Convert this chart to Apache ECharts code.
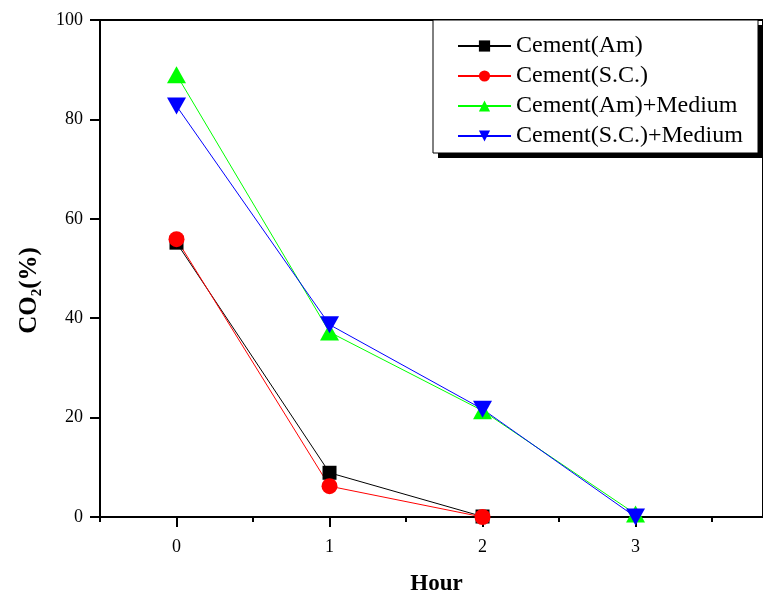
<!DOCTYPE html>
<html>
<head>
<meta charset="utf-8">
<script src="https://cdn.jsdelivr.net/npm/echarts@6/dist/echarts.min.js"></script>
<style>
  html, body { margin: 0; padding: 0; background: #fff; }
  #chart { width: 763px; height: 593px; }
</style>
</head>
<body>
<div id="chart"></div>
<script>
  // hours on the x axis
  var hours = [0, 1, 2, 3]
  var halfTicks = [-0.5, 0.5, 1.5, 2.5, 3.5]

  // CO2 (%)
  var cementAm = [55.2, 8.9, 0.1]
  var cementSC = [55.9, 6.2, 0]
  var cementAmMedium = [89.0, 37.2, 21.4, 0.6]
  var cementSCMedium = [82.7, 38.7, 21.7, 0]

  var seriesNames = ['Cement(Am)', 'Cement(S.C.)', 'Cement(Am)+Medium', 'Cement(S.C.)+Medium']

  function pairs(vals) {
    return vals.map(function (v, i) { return [hours[i], v] })
  }

  var font = '"Liberation Serif", "Times New Roman", serif'

  var myChart = echarts.init(document.getElementById('chart'))
  var option = {
    animation: false,
    textStyle: { fontFamily: font, color: '#000' },
    grid: {
      left: 100, top: 20, right: 0, bottom: 76,
      outerBoundsMode: 'none',
      show: true, borderColor: '#000', borderWidth: 2
    },
    // legend frame with its hard drop shadow
    graphic: [{
      type: 'rect',
      z: 0,
      shape: { x: 438, y: 25, width: 325, height: 133 },
      style: { fill: '#000' }
    }, {
      type: 'rect',
      z: 1,
      shape: { x: 433, y: 20, width: 325, height: 133 },
      style: { fill: '#fff', stroke: '#000', lineWidth: 1 }
    }],
    legend: {
      data: seriesNames,
      orient: 'vertical',
      left: 433,
      top: 20,
      z: 5,
      padding: [14, 16, 6, 24],
      itemWidth: 53,
      itemHeight: 14,
      itemGap: 6,
      textStyle: { fontFamily: font, fontSize: 24, lineHeight: 24, color: '#000' }
    },
    xAxis: [{
      type: 'value',
      min: -0.5,
      max: 3.833,
      name: 'Hour',
      nameLocation: 'middle',
      nameGap: 56,
      nameTextStyle: { fontFamily: font, fontSize: 23, fontWeight: 'bold', color: '#000', padding: [0, 0, 0, 10] },
      axisLine: { onZero: false, lineStyle: { color: '#000', width: 2 } },
      axisTick: { show: true, inside: false, length: 10, customValues: hours, lineStyle: { color: '#000', width: 2 } },
      axisLabel: { customValues: hours, margin: 21, fontFamily: font, fontSize: 18, color: '#000' },
      splitLine: { show: false }
    }, {
      type: 'value',
      position: 'bottom',
      min: -0.5,
      max: 3.833,
      axisLine: { show: false, onZero: false },
      axisTick: { show: true, length: 5, customValues: halfTicks, lineStyle: { color: '#000', width: 2 } },
      axisLabel: { show: false },
      splitLine: { show: false }
    }],
    yAxis: {
      type: 'value',
      min: 0,
      max: 100,
      interval: 20,
      name: '{a|CO}{b|2}{a|(%)}',
      nameLocation: 'middle',
      nameRotate: 90,
      nameGap: 50,
      nameTextStyle: {
        padding: [0, 44, 0, 0],
        rich: {
          a: { fontFamily: font, fontSize: 25, fontWeight: 'bold', lineHeight: 32, color: '#000' },
          b: { fontFamily: font, fontSize: 15, fontWeight: 'bold', lineHeight: 17, verticalAlign: 'bottom', color: '#000' }
        }
      },
      axisLine: { show: true, onZero: false, lineStyle: { color: '#000', width: 2 } },
      axisTick: { show: true, length: 10, lineStyle: { color: '#000', width: 2 } },
      axisLabel: { margin: 17, fontFamily: font, fontSize: 18, color: '#000' },
      splitLine: { show: false }
    },
    series: [{
      name: seriesNames[0],
      type: 'line',
      data: pairs(cementAm),
      symbol: 'rect',
      symbolSize: 14,
      color: '#000000',
      lineStyle: { width: 1 }
    }, {
      name: seriesNames[1],
      type: 'line',
      data: pairs(cementSC),
      symbol: 'circle',
      symbolSize: 16,
      color: '#ff0000',
      lineStyle: { width: 1 }
    }, {
      name: seriesNames[2],
      type: 'line',
      data: pairs(cementAmMedium),
      symbol: 'triangle',
      symbolSize: [19, 17],
      color: '#00ff00',
      lineStyle: { width: 1 }
    }, {
      name: seriesNames[3],
      type: 'line',
      data: pairs(cementSCMedium),
      symbol: 'triangle',
      symbolRotate: 180,
      symbolSize: [19, 17],
      color: '#0000ff',
      lineStyle: { width: 1 }
    }]
  }
  myChart.setOption(option)
</script>
</body>
</html>
